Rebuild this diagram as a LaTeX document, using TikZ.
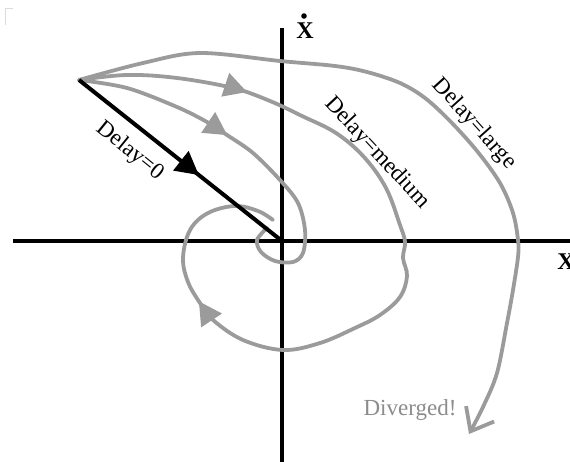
\documentclass[tikz,border=0pt]{standalone}
\usepackage{fontspec}
\setmainfont{Liberation Serif}
\usetikzlibrary{arrows.meta,decorations.markings}
\definecolor{curvegray}{RGB}{155,155,155}
\definecolor{textgray}{RGB}{140,140,140}
\definecolor{markgray}{RGB}{220,220,220}
\begin{document}
\begin{tikzpicture}[x=1pt,y=-1pt,
  axis/.style={line width=4pt, black},
  traj/.style={line width=3.8pt, curvegray, line cap=round, line join=round},
  blackline/.style={line width=4pt, black},
  lbl/.style={font=\fontsize{23}{25}\selectfont, inner sep=0pt},
  axlbl/.style={font=\fontsize{24}{26}\selectfont\bfseries, inner sep=0pt},
  arrowsat/.style 2 args={postaction={decorate}, decoration={markings,
     mark=at position #1 with {\arrow{Triangle[length=23pt,width=24pt]}},
     mark=at position #2 with {\arrow{Triangle[length=23pt,width=24pt]}}}},
  arrowat/.style={postaction={decorate}, decoration={markings,
     mark=at position #1 with {\arrow{Triangle[length=23pt,width=24pt]}}}}
]
\useasboundingbox (0,0) rectangle (570,462);
% faint corner mark
\draw[markgray, line width=1pt] (5.5,25) -- (5.5,8.5) -- (13,8.5);

% axes
\coordinate (O) at (282,241);
\coordinate (S) at (79,80);
\coordinate (xl) at (13,241);
\coordinate (xr) at (575,241);
\coordinate (yt) at (282,28);
\coordinate (yb) at (282,470);
\draw[axis] (xl) -- (xr);
\draw[axis] (yt) -- (yb);
\node[axlbl] (xdot) at (305,31) {X};
\fill (304,16) circle (2.8pt);
\node[axlbl] (xlab) at (566,262) {X};

% Delay = large
\draw[traj, -{Straight Barb[length=20pt,width=32pt]}]
  plot[smooth, tension=0.55] coordinates {(79,80) (143,63) (200,53) (280,61) (335,66) (367,72)
  (400,83) (425,98) (450,121) (477,151) (500,183) (513,213) (518,240) (518,257) (513,290)
  (507,323) (497,373) (483,407) (469,434)};

% Delay = medium
\draw[traj, arrowsat={170pt}{690pt}]
  plot[smooth, tension=0.6] coordinates {(79,80) (127,75) (177,78) (233,88) (270,101)
  (302,116) (336,133) (364,157) (386,188) (400,225) (405,242) (403,258) (407,276)
  (400,297) (380,315) (355,328) (320,343) (283,350) (243,340) (213,320) (200,303)
  (188,282) (183,258) (190,230) (208,213) (235,206) (258,211) (273,220)};

% Delay = small
\draw[traj, arrowat=160pt]
  plot[smooth, tension=0.55] coordinates {(79,80) (127,88) (177,107) (207,122) (227,135)
  (253,153) (280,180) (298,203) (305,230) (303,253) (293,262) (275,261) (261,252)
  (257,240) (267,228)};

% Delay = 0
\draw[blackline, arrowat=153pt] (S) -- (O);

% labels
\node[lbl, rotate=-39] (d0) at (130,151) {Delay=0};
\node[lbl, rotate=-47] (dm) at (377,153) {Delay=medium};
\node[lbl, rotate=-48] (dl) at (474,124) {Delay=large};
\node[lbl, text=textgray, anchor=base] (div) at (410,415) {Diverged!};
\end{tikzpicture}
\end{document}
